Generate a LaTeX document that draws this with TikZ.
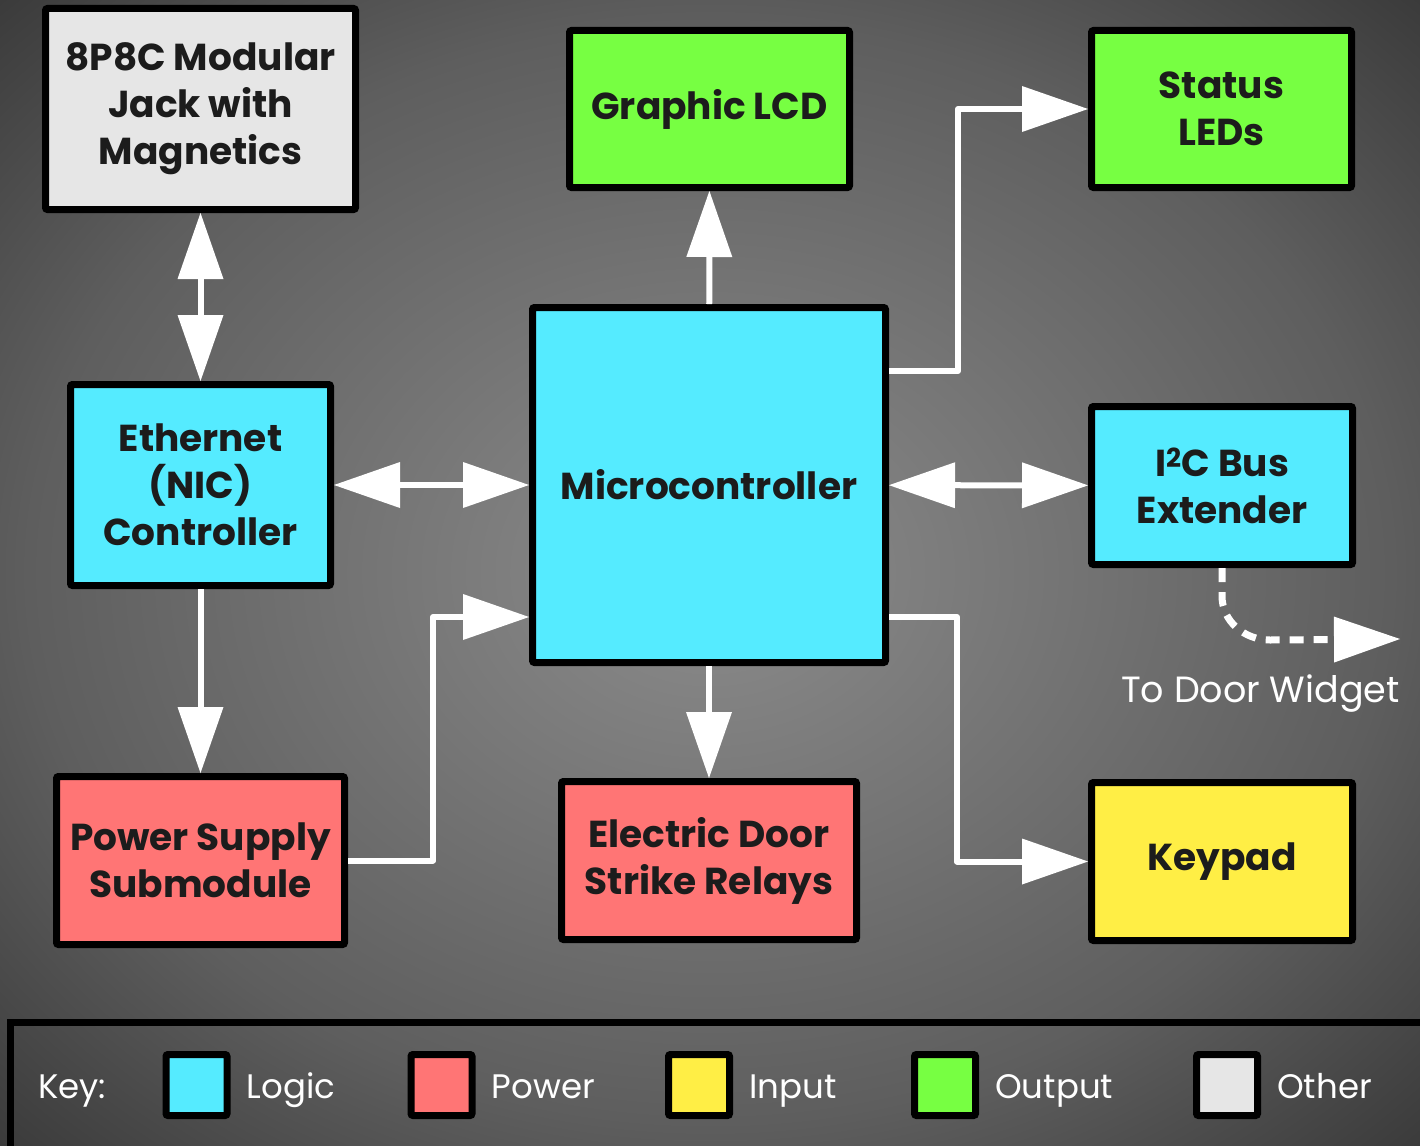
\documentclass[tikz,border=0pt]{standalone}
\usepackage{fontspec}
\setmainfont{Poppins}
\usepackage{tikz}
\usetikzlibrary{positioning,arrows.meta}
\definecolor{ink}{HTML}{1C1C1C}
\definecolor{logicfill}{HTML}{55EBFF}
\definecolor{powerfill}{HTML}{FF7575}
\definecolor{inputfill}{HTML}{FFEE45}
\definecolor{outputfill}{HTML}{77FF42}
\definecolor{otherfill}{HTML}{E6E6E6}
\definecolor{bgmid}{HTML}{8C8C8C}
\definecolor{bgside}{HTML}{5E5E5E}
\definecolor{bgedge}{HTML}{393939}
\pgfdeclareradialshading{bgglow}{\pgfpoint{0bp}{0bp}}{%
  color(0bp)=(bgmid); color(24bp)=(bgside); color(36bp)=(bgedge); color(50bp)=(bgedge)}
\tikzset{
  >={Triangle[width=46pt,length=66pt,line width=0pt]},
  block/.style     = {draw=black, line width=7pt, rounded corners=2pt, align=center,
                      inner sep=0pt, text=ink, font=\bfseries\fontsize{37.5}{47}\selectfont},
  logicbox/.style  = {block, fill=logicfill},
  powerbox/.style  = {block, fill=powerfill},
  inputbox/.style  = {block, fill=inputfill},
  outputbox/.style = {block, fill=outputfill},
  otherbox/.style  = {block, fill=otherfill},
  swatch/.style    = {draw=black, line width=7pt, rounded corners=2pt,
                      minimum width=61pt, minimum height=61pt, inner sep=0pt},
  keytext/.style   = {text=white, font=\fontsize{34}{40}\selectfont, inner sep=0pt},
  link/.style      = {draw=white, line width=6pt, line join=round},
  dashlink/.style  = {link, line width=7pt, dash pattern=on 14pt off 10pt},
}

\begin{document}
\begin{tikzpicture}[x=1pt, y=-1pt]

\useasboundingbox (0,0) rectangle (1420,1145);
\clip (0,0) rectangle (1420,1145);
\shade[shading=bgglow] (0,0) rectangle (1420,1145);

% ---- top row ----------------------------------------------------------
\node[otherbox, minimum width=310pt, minimum height=201pt] at (200.5,109) (jack)
  {8P8C Modular\\Jack with\\Magnetics};
\node[outputbox, minimum width=280pt, minimum height=157pt] at (709.5,109) (lcd)
  {Graphic LCD};
\node[outputbox, minimum width=260pt, minimum height=157pt] at (1221.5,109) (leds)
  {Status\\LEDs};

% ---- middle row -------------------------------------------------------
\node[logicbox, minimum width=260pt, minimum height=201pt] at (200.5,485) (nic)
  {Ethernet\\(NIC)\\Controller};
\node[logicbox, minimum width=353pt, minimum height=355pt] at (709,485) (mcu)
  {Microcontroller};
\node[logicbox, minimum width=261pt, minimum height=158pt] at (1222,485.5) (i2c)
  {I\textsuperscript{2}C Bus\\Extender};

% ---- bottom row -------------------------------------------------------
\node[powerbox, minimum width=288pt, minimum height=168pt] at (200.5,860.5) (psu)
  {Power Supply\\Submodule};
\node[powerbox, minimum width=295pt, minimum height=158pt] at (709,860.5) (relay)
  {Electric Door\\Strike Relays};
\node[inputbox, minimum width=261pt, minimum height=158pt] at (1222,861.5) (keypad)
  {Keypad};

% ---- links ------------------------------------------------------------
\draw[link, <->] (jack) -- (nic);
\draw[link, <->] (nic) -- (mcu);
\draw[link, <->] (mcu) -- (i2c);
\draw[link, ->] (mcu) -- (lcd);
\draw[link, ->] (mcu) -- (relay);
\draw[link, ->] (nic) -- (psu);
\draw[link, ->] ([yshift=114pt]mcu.east) -- ++(69,0) |- (leds);
\draw[link, ->] ([yshift=-132pt]mcu.east) -- ++(68,0) |- (keypad);
\draw[link, ->] (psu.east) -- ++(85,0) |- ([yshift=-132pt]mcu.west);

% the extender goes on to the door widget
\coordinate (door) at (1400,639);
\draw[dashlink, ->] (i2c.south) -- ++(0,28) to[out=-90, in=180] ++(48,44) -- (door);
\node[keytext, font=\fontsize{36.5}{40}\selectfont, anchor=north east]
  at (1400,675) (doorlbl) {To Door Widget};

% ---- key --------------------------------------------------------------
\node[draw=black, line width=7pt, minimum width=1427pt, minimum height=139pt,
      inner sep=0pt] at (724,1092) (keybar) {};
\node[keytext, anchor=base west] at (38,1098) (keylbl) {Key:};
\node[swatch, fill=logicfill]  at (196.5,1085) (swlogic)  {};
\node[swatch, fill=powerfill]  at (441.5,1085) (swpower)  {};
\node[swatch, fill=inputfill]  at (699,1085)   (swinput)  {};
\node[swatch, fill=outputfill] at (945,1085)   (swoutput) {};
\node[swatch, fill=otherfill]  at (1227,1085)  (swother)  {};
\tikzset{keyname/.style={keytext, anchor=base west}}
\node[keyname] at ([xshift=16pt, yshift=-13pt]swlogic.east)  (lbllogic)  {Logic};
\node[keyname] at ([xshift=16pt, yshift=-13pt]swpower.east)  (lblpower)  {Power};
\node[keyname] at ([xshift=16pt, yshift=-13pt]swinput.east)  (lblinput)  {Input};
\node[keyname] at ([xshift=16pt, yshift=-13pt]swoutput.east) (lbloutput) {Output};
\node[keyname] at ([xshift=16pt, yshift=-13pt]swother.east)  (lblother)  {Other};

\end{tikzpicture}
\end{document}
